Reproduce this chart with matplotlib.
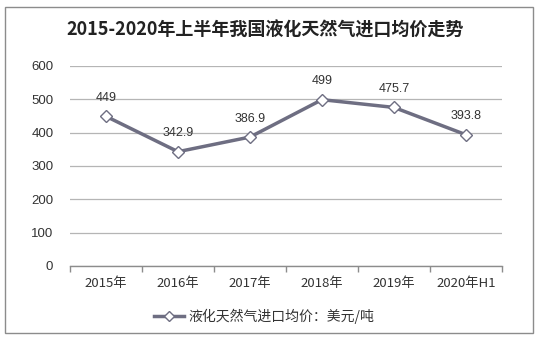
import matplotlib
matplotlib.use("Agg")
import matplotlib.pyplot as plt
from matplotlib.patches import Rectangle

plt.rcParams['font.family'] = ['Noto Sans CJK SC', 'DejaVu Sans']

categories = ['2015年', '2016年', '2017年', '2018年', '2019年', '2020年H1']
values = [449, 342.9, 386.9, 499, 475.7, 393.8]
labels = ['449', '342.9', '386.9', '499', '475.7', '393.8']
yticks = [0, 100, 200, 300, 400, 500, 600]
title = '2015-2020年上半年我国液化天然气进口均价走势'
series_name = '液化天然气进口均价：美元/吨'

W, H = 538, 339
fig = plt.figure(figsize=(W / 100, H / 100), dpi=100)
fig.patch.set_facecolor('white')
fig.patches.append(Rectangle((5 / W, 6 / H), 528 / W, 326 / H, transform=fig.transFigure,
                             fill=False, edgecolor='#8c8c8c', linewidth=1.0))

ax = fig.add_axes([70 / W, 1 - 266 / H, 432 / W, 200 / H])
x = list(range(len(categories)))
line_color = '#6e6e82'
ax.plot(x, values, color=line_color, linewidth=2.5, marker='D', markersize=6.5,
        markerfacecolor='white', markeredgecolor='#6e6e82', markeredgewidth=1.0,
        label=series_name, zorder=3)
for xi, v, lab in zip(x, values, labels):
    ax.annotate(lab, (xi, v), xytext=(0, 9), textcoords='offset points',
                ha='center', va='bottom', fontsize=9, color='#333333',
                family=['Liberation Sans', 'DejaVu Sans'])

ax.set_xlim(-0.5, len(categories) - 0.5)
ax.set_ylim(0, 600)
ax.set_yticks(yticks)
ax.set_yticklabels([str(t) for t in yticks], fontsize=9.5, color='#333333',
                   family=['Liberation Sans', 'DejaVu Sans'])
ax.set_xticks(x)
ax.set_xticklabels(categories, fontsize=9.5, color='#333333')
ax.set_xticks([i - 0.5 for i in range(len(categories) + 1)], minor=True)
ax.tick_params(axis='x', which='major', length=0, pad=8)
ax.tick_params(axis='x', which='minor', length=4, color='#8c8c8c', width=1)
ax.tick_params(axis='y', length=0, pad=12)
ax.grid(axis='y', color='#b5b5b5', linewidth=0.9)
ax.set_axisbelow(True)
for s in ['top', 'right', 'left']:
    ax.spines[s].set_visible(False)
ax.spines['bottom'].set_color('#8c8c8c')
ax.spines['bottom'].set_linewidth(1.0)

fig.text(265 / W, 1 - 30 / H, title, ha='center', va='center', fontsize=13,
         fontweight='bold', color='#222222')

leg = fig.legend(loc='center', bbox_to_anchor=(264 / W, 1 - 316 / H), frameon=False,
                 fontsize=10, handlelength=2.2, handletextpad=0.3, markerscale=0.8)
for t in leg.get_texts():
    t.set_color('#333333')

fig.savefig('out.png', dpi=100, facecolor='white')
